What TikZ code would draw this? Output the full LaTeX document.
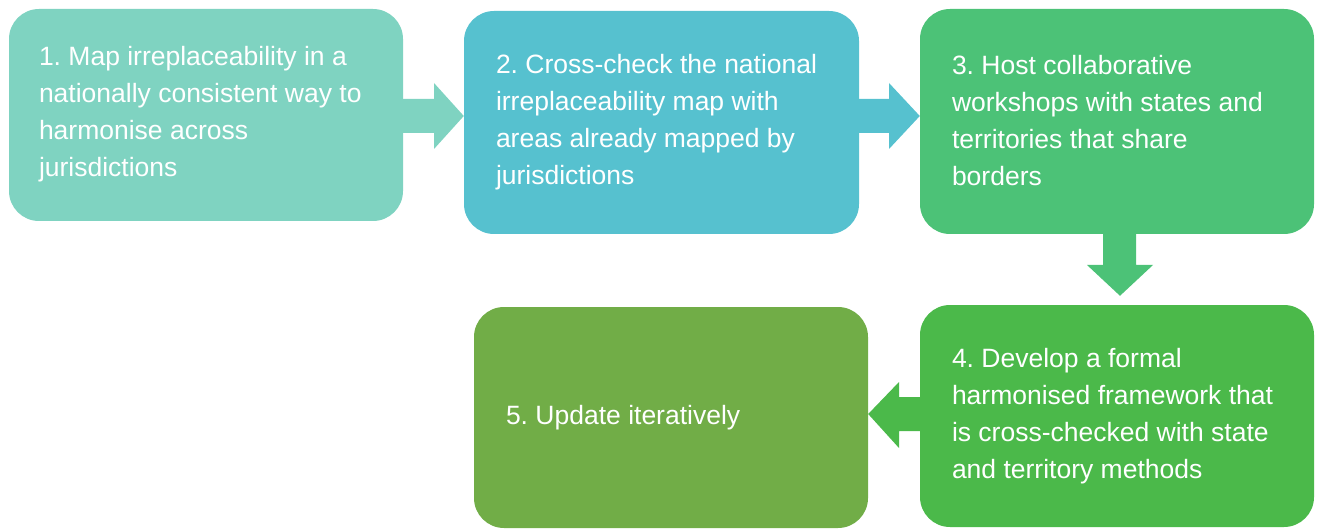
\documentclass[tikz,border=0pt]{standalone}
\usepackage{fontspec}
\setmainfont{Liberation Sans}
\usetikzlibrary{calc}
\definecolor{cA}{HTML}{7FD3C1}
\definecolor{cB}{HTML}{56C1CF}
\definecolor{cC}{HTML}{4CC277}
\definecolor{cD}{HTML}{4BB94A}
\definecolor{cE}{HTML}{71AD47}
\frenchspacing
\begin{document}
\begin{tikzpicture}[x=1pt,y=-1pt,
  stepbox/.style={rounded corners=30pt, inner sep=0pt, draw=none},
  txt/.style={anchor=west, inner sep=0pt, align=left, text=white,
    font=\fontsize{26.5}{37}\selectfont}]
\useasboundingbox (0,0) rectangle (1319,529);
% boxes
\node[stepbox, fill=cA, minimum width=394pt, minimum height=212pt] (b1) at (206,115) {};
\node[stepbox, fill=cB, minimum width=395pt, minimum height=223pt] (b2) at (661.5,122.5) {};
\node[stepbox, fill=cC, minimum width=394pt, minimum height=225pt] (b3) at (1117,121.5) {};
\node[stepbox, fill=cD, minimum width=394pt, minimum height=222pt] (b4) at (1117,416) {};
\node[stepbox, fill=cE, minimum width=394pt, minimum height=221pt] (b5) at (671,417.5) {};
% texts
\node[txt] (t1) at ($(b1.west)+(30,-1)$) {1. Map irreplaceability in a\\nationally consistent way to\\harmonise across\\jurisdictions};
\node[txt] (t2) at ($(b2.west)+(32,0)$) {2. Cross-check the national\\irreplaceability map with\\areas already mapped by\\jurisdictions};
\node[txt] (t3) at ($(b3.west)+(32,-1)$) {3. Host collaborative\\workshops with states and\\territories that share\\borders};
\node[txt] (t4) at ($(b4.west)+(32,0)$) {4. Develop a formal\\harmonised framework that\\is cross-checked with state\\and territory methods};
\node[txt] (t5) at ($(b5.west)+(32,0)$) {5. Update iteratively};
% arrows
\fill[cA] (b1.east |- 0,99) -- (434,99) -- (434,83) -- (b2.west |- 0,116)
  -- (434,149) -- (434,133) -- (b1.east |- 0,133) -- cycle;
\fill[cB] (b2.east |- 0,99) -- (889,99) -- (889,83) -- (b3.west |- 0,116)
  -- (889,149) -- (889,133) -- (b2.east |- 0,133) -- cycle;
\fill[cC] (1103,0 |- b3.south) -- (1103,265) -- (1087,265)
  -- ($(1120,0 |- b4.north)+(0,-9)$)
  -- (1153,265) -- (1136,265) -- (1136,0 |- b3.south) -- cycle;
\fill[cD] (b4.west |- 0,397) -- (899,397) -- (899,382) -- (b5.east |- 0,414)
  -- (899,448) -- (899,431) -- (b4.west |- 0,431) -- cycle;
\end{tikzpicture}
\end{document}
